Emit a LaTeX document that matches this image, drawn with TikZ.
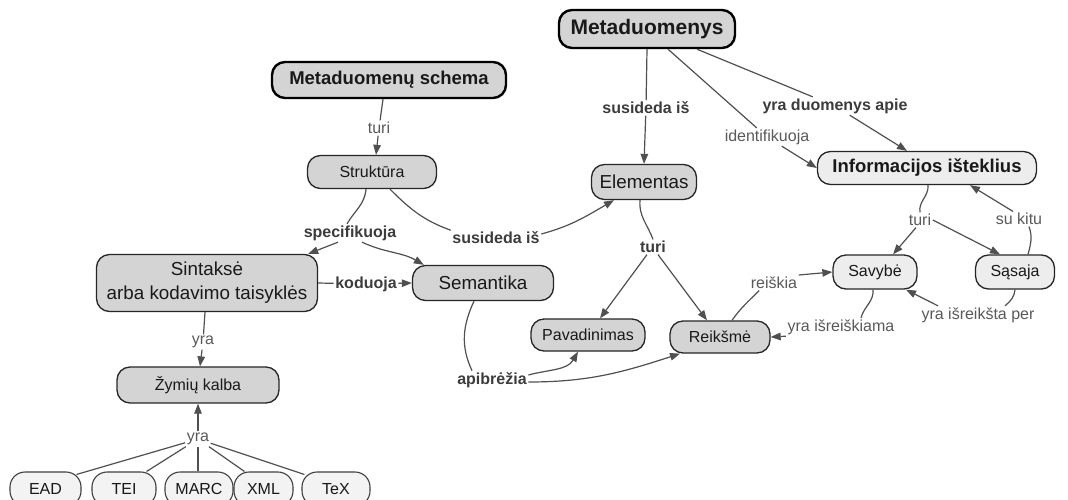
\documentclass[tikz,border=0pt]{standalone}
\usepackage{fontspec}
\setmainfont{Liberation Sans}
\usetikzlibrary{arrows.meta}

\definecolor{boxgray}{HTML}{D4D4D4}
\definecolor{boxlite}{HTML}{EDEDED}
\definecolor{boxpale}{HTML}{F3F3F3}
\definecolor{linkgray}{HTML}{505050}
\definecolor{lblgray}{HTML}{5A5A5A}
\definecolor{lbldark}{HTML}{3C3C3C}

\begin{document}
\begin{tikzpicture}[x=1pt,y=-1pt,
  concept/.style={draw=black!85, line width=1.3pt, rounded corners=13pt,
    fill=boxgray, align=center, inner sep=0pt, text=black!90},
  headbox/.style={concept, draw=black, line width=2.4pt,
    font=\bfseries\fontsize{18.5}{22}\selectfont},
  litebox/.style={concept, fill=boxlite},
  leafbox/.style={concept, fill=boxpale, draw=black!75, line width=1.1pt,
    rounded corners=15pt, font=\fontsize{16}{19}\selectfont, minimum height=34pt},
  bigtext/.style={font=\fontsize{18.8}{24}\selectfont},
  smalltext/.style={font=\fontsize{16}{19}\selectfont},
  lbl/.style={font=\fontsize{16}{19}\selectfont, text=lblgray, inner sep=1.5pt},
  blbl/.style={font=\bfseries\fontsize{16}{19}\selectfont, text=lbldark, inner sep=1.5pt},
  link/.style={draw=linkgray, line width=1.2pt},
  arrow/.style={link, -{Triangle[length=10pt,width=7.5pt]}}
]
\clip (0,0) rectangle (1068,499);
\fill[white] (0,0) rectangle (1068,499);

% concepts
\node[headbox, font=\bfseries\fontsize{21}{25}\selectfont,
      minimum width=176pt, minimum height=38pt] (meta) at (647,29) {Metaduomenys};
\node[headbox, minimum width=234pt, minimum height=36pt] (schema) at (389,80) {Metaduomenų schema};
\node[concept, smalltext, minimum width=129pt, minimum height=33pt] (struk) at (372,172) {Struktūra};
\node[concept, bigtext, minimum width=221pt, minimum height=57pt] (sint) at (207,283) {Sintaksė\\arba kodavimo taisyklės};
\node[concept, bigtext, minimum width=141pt, minimum height=35pt] (sem) at (483,283) {Semantika};
\node[concept, smalltext, minimum width=162pt, minimum height=36pt] (zym) at (198,385) {Žymių kalba};
\node[concept, bigtext, minimum width=105pt, minimum height=35pt] (elem) at (644,182) {Elementas};
\node[concept, smalltext, minimum width=114pt, minimum height=32pt] (pav) at (588,335) {Pavadinimas};
\node[concept, smalltext, minimum width=100pt, minimum height=32pt] (reik) at (720,337) {Reikšmė};
\node[litebox, font=\bfseries\fontsize{18.5}{22}\selectfont,
      minimum width=219pt, minimum height=33pt] (info) at (927,168) {Informacijos išteklius};
\node[litebox, smalltext, minimum width=84pt, minimum height=34pt] (sav) at (875,272) {Savybė};
\node[litebox, smalltext, minimum width=79pt, minimum height=34pt] (sas) at (1015,272) {Sąsaja};

% markup languages
\node[leafbox, minimum width=71pt] (ead) at (45.5,489) {EAD};
\node[leafbox, minimum width=64pt] (tei) at (124,489) {TEI};
\node[leafbox, minimum width=68pt] (marc) at (199,489) {MARC};
\node[leafbox, minimum width=59pt] (xml) at (263.5,489) {XML};
\node[leafbox, minimum width=68pt] (tex) at (336,489) {TeX};

% linking phrases
\node[blbl] (lsus1) at (646,108) {susideda iš};
\node[blbl] (lyda) at (835,106) {yra duomenys apie};
\node[lbl] (lid) at (767,137) {identifikuoja};
\node[lbl] (lturi1) at (379,128) {turi};
\node[blbl] (lspec) at (350,233) {specifikuoja};
\node[blbl] (lsus2) at (496,238) {susideda iš};
\node[blbl] (lkod) at (366,284) {koduoja};
\node[blbl] (lapi) at (492,380) {apibrėžia};
\node[blbl] (lturi2) at (653,247) {turi};
\node[lbl] (lreis) at (774,283) {reiškia};
\node[lbl] (lyis) at (841,327) {yra išreiškiama};
\node[lbl] (lturi3) at (920,220) {turi};
\node[lbl] (lkitu) at (1019,219) {su kitu};
\node[lbl] (lper) at (978,315) {yra išreikšta per};
\node[lbl] (lyra1) at (203,342) {yra};
\node[lbl] (lyra2) at (198,439) {yra};

% Metaduomenys
\draw[link] (meta.south) -- (lsus1);
\draw[arrow] (lsus1) -- (elem.north);
\draw[link] ([xshift=50pt]meta.south) -- (lyda);
\draw[arrow] (lyda) -- ([xshift=-20pt]info.north);
\draw[link] ([xshift=21pt]meta.south) -- (lid);
\draw[arrow] (lid) -- (info.west);

% Metaduomenų schema and Struktūra
\draw[link] ([xshift=-6pt]schema.south) -- (lturi1);
\draw[arrow] (lturi1) -- ([xshift=4pt]struk.north);
\draw[link] ([xshift=-6pt]struk.south) to[out=-95,in=60] ([xshift=-3pt]lspec.north);
\draw[arrow] ([xshift=-12pt]lspec.south) -- ([xshift=-10pt]sint.north east);
\draw[arrow] ([xshift=12pt]lspec.south) to[out=-25,in=150] ([xshift=12pt]sem.north west);
\draw[link] ([xshift=18pt]struk.south) to[out=-45,in=160] (lsus2.north west);
\draw[arrow] ([yshift=4pt]lsus2.east) to[out=15,in=-150] ([xshift=-30pt]elem.south);

% Sintaksė and Semantika
\draw[link] (sint.east) -- (lkod);
\draw[arrow] (lkod) -- (sem.west);
\draw[link] ([xshift=-9pt]sem.south) to[out=-115,in=115] ([xshift=-20pt]lapi.north);
\draw[arrow] ([yshift=5pt]lapi.east) to[out=15,in=-120] ([xshift=-10pt]pav.south);
\draw[arrow] ([yshift=-2pt]lapi.east) to[out=0,in=-162] ([xshift=-40pt]reik.south);

% Elementas
\draw[link] ([xshift=-4pt]elem.south) to[out=-95,in=110] (lturi2.north);
\draw[arrow] ([xshift=-6pt]lturi2.south) -- ([xshift=12pt]pav.north);
\draw[arrow] ([xshift=5pt]lturi2.south) -- ([xshift=-13pt]reik.north);

% Reikšmė and Savybė
\draw[link] ([xshift=12pt]reik.north) to[out=55,in=-135] ([xshift=10pt]lreis.south west);
\draw[arrow] ([yshift=8pt]lreis.east) -- (sav.west);
\draw[link] ([xshift=-2pt]sav.south) to[out=-85,in=75] ([xshift=20pt]lyis.north);
\draw[arrow] (lyis.south west) -- (reik.east);

% Informacijos išteklius
\draw[link] ([xshift=1pt]info.south) to[out=-85,in=100] (lturi3.north);
\draw[arrow] ([xshift=-4pt]lturi3.south) -- ([xshift=18pt]sav.north);
\draw[arrow] (lturi3.east) -- ([xshift=-15pt]sas.north);
\draw[link] ([xshift=13pt]sas.north) to[out=75,in=-70] ([xshift=10pt]lkitu.south);
\draw[arrow] ([xshift=-6pt]lkitu.north) -- ([xshift=43pt]info.south);
\draw[link] (sas.south) to[out=-95,in=40] ([xshift=27pt]lper.north);
\draw[arrow] ([xshift=-40pt]lper.north) -- ([xshift=31pt]sav.south);

% Sintaksė and Žymių kalba
\draw[link] ([xshift=-2pt]sint.south) -- (lyra1);
\draw[arrow] (lyra1) -- ([xshift=2pt]zym.north);
\draw[arrow] (lyra2) -- (zym.south);
\draw[link] ([xshift=-5pt,yshift=-3pt]ead.north east) -- (lyra2);
\draw[link] ([xshift=-10pt]tei.north east) -- (lyra2);
\draw[link] ([xshift=-1pt]marc.north) -- (lyra2);
\draw[link] ([xshift=11pt]xml.north west) -- (lyra2);
\draw[link] ([xshift=3pt,yshift=-3pt]tex.north west) -- (lyra2);
\end{tikzpicture}
\end{document}
